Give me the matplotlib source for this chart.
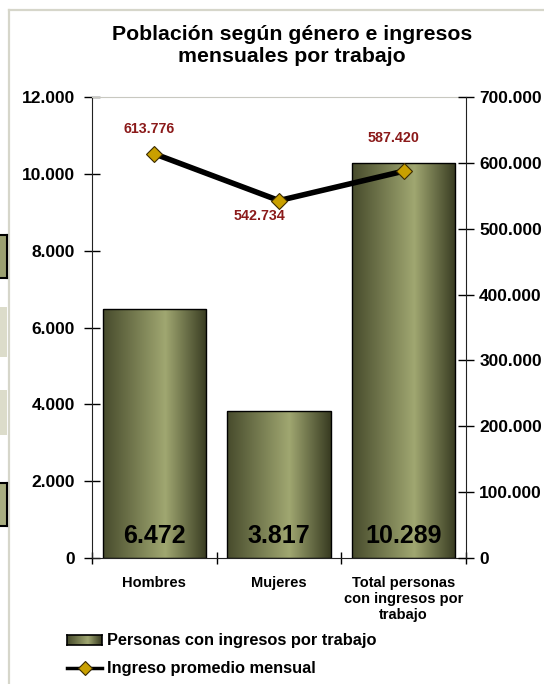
import numpy as np
import matplotlib.pyplot as plt
from matplotlib.colors import LinearSegmentedColormap
from matplotlib.patches import Rectangle
from matplotlib.lines import Line2D
from matplotlib.ticker import FuncFormatter, FixedLocator

plt.rcParams['font.family'] = ['Liberation Sans', 'DejaVu Sans']
plt.rcParams['font.weight'] = 'bold'

categories = ['Hombres', 'Mujeres', 'Total personas\ncon ingresos por\ntrabajo']
personas = [6472, 3817, 10289]
ingreso = [613776, 542734, 587420]
bar_labels = ['6.472', '3.817', '10.289']
ingreso_labels = ['613.776', '542.734', '587.420']

W, H = 544, 684
fig = plt.figure(figsize=(W / 100, H / 100), dpi=100)


def fx(x):
    return x / W


def fy(y):
    return 1 - y / H


# outer chart frame (light border)
fig.add_artist(Line2D([fx(9), fx(9)], [fy(10), 0], color='#d6d6ca', lw=1.6,
                      transform=fig.transFigure))
fig.add_artist(Line2D([fx(9), 1], [fy(10), fy(10)], color='#d6d6ca', lw=1.6,
                      transform=fig.transFigure))

# fragment of a table at the left edge
for y0, y1, col in [(235, 278, '#9ba070'), (307, 357, '#dcdcca'),
                    (390, 435, '#dcdcca'), (483, 526, '#a9ae80')]:
    fig.add_artist(Rectangle((0, fy(y1)), fx(7), (y1 - y0) / H, facecolor=col,
                             edgecolor='none', transform=fig.transFigure))
for y in [235, 278, 483, 526]:
    fig.add_artist(Line2D([0, fx(7)], [fy(y), fy(y)], color='black', lw=1.5,
                          transform=fig.transFigure))
fig.add_artist(Line2D([fx(7), fx(7)], [fy(235), fy(278)], color='black', lw=1.5,
                      transform=fig.transFigure))
fig.add_artist(Line2D([fx(7), fx(7)], [fy(483), fy(526)], color='black', lw=1.5,
                      transform=fig.transFigure))

ax = fig.add_axes([fx(92), fy(558), fx(466) - fx(92), (558 - 97) / H])
ax2 = ax.twinx()

x = np.arange(len(categories))
bars = ax.bar(x, personas, width=0.83, facecolor='none', edgecolor='black',
              linewidth=1.0, zorder=3)

cmap = LinearSegmentedColormap.from_list(
    'olive', [(0, '#474b2c'), (0.6, '#a0a771'), (1.0, '#383b21')])
grad = np.linspace(0, 1, 256).reshape(1, -1)
for b in bars:
    bx, by = b.get_x(), b.get_y()
    im = ax.imshow(grad, cmap=cmap, aspect='auto', zorder=2,
                   extent=[bx, bx + b.get_width(), by, by + b.get_height()])
    im.set_clip_path(b)

for xi, lab in zip(x, bar_labels):
    ax.text(xi, 560, lab, ha='center', va='center', fontsize=18,
            fontweight='bold', color='black', zorder=4)

ax.set_xlim(-0.5, 2.5)
ax.set_ylim(0, 12000)
ax.set_yticks(np.arange(0, 12001, 2000))
fmt = FuncFormatter(lambda v, p: f'{v:,.0f}'.replace(',', '.'))
ax.yaxis.set_major_formatter(fmt)

ax.xaxis.set_major_locator(FixedLocator([-0.5, 0.5, 1.5, 2.5]))
ax.xaxis.set_minor_locator(FixedLocator(x))
ax.set_xticklabels([], minor=False)
ax.set_xticklabels(categories, minor=True, fontsize=10.5, fontweight='bold',
                   linespacing=1.2)
ax.tick_params(axis='x', which='major', direction='inout', length=8, width=1)
ax.tick_params(axis='x', which='minor', length=0, pad=13)
ax.tick_params(axis='y', direction='inout', length=11, width=1, pad=7,
               labelsize=12.5)

ax.spines['top'].set_color('#c8c8c0')
ax.spines['right'].set_visible(False)
for s in ['left', 'bottom']:
    ax.spines[s].set_color('#222222')

ax2.plot(x, ingreso, color='black', lw=4, marker='D', markersize=8,
         markerfacecolor='#c9a000', markeredgecolor='#3a2a00',
         markeredgewidth=0.8, zorder=5)
ax2.set_ylim(0, 700000)
ax2.set_yticks(np.arange(0, 700001, 100000))
ax2.yaxis.set_major_formatter(fmt)
ax2.tick_params(axis='y', direction='inout', length=11, width=1, pad=4,
                labelsize=12.5)
for s in ['top', 'left', 'bottom']:
    ax2.spines[s].set_visible(False)
ax2.spines['right'].set_color('#222222')

offsets = [(-5, 25), (-20, -15), (-10, 33)]
for xi, v, lab, (dx, dy) in zip(x, ingreso, ingreso_labels, offsets):
    ax2.annotate(lab, (xi, v), xytext=(dx, dy), textcoords='offset pixels',
                 ha='center', va='center', fontsize=10.3, fontweight='bold',
                 color='#8b1a1a')

fig.text(fx(292), fy(45), 'Población según género e ingresos\nmensuales por trabajo',
         ha='center', va='center', fontsize=15.3, fontweight='bold',
         linespacing=1.2)

# legend
lax = fig.add_axes([fx(67), fy(645), fx(35), 10 / H])
lax.imshow(np.linspace(0, 1, 64).reshape(1, -1), cmap=cmap, aspect='auto')
lax.set_xticks([])
lax.set_yticks([])
for s in lax.spines.values():
    s.set_linewidth(1.2)
fig.text(fx(107), fy(640), 'Personas con ingresos por trabajo', ha='left',
         va='center', fontsize=11.8, fontweight='bold')
fig.add_artist(Line2D([fx(67), fx(102)], [fy(668), fy(668)], color='black', lw=2.5,
                      transform=fig.transFigure))
fig.add_artist(Line2D([fx(84.5)], [fy(668)], marker='D', markersize=7,
                      markerfacecolor='#c9a000', markeredgecolor='#3a2a00',
                      markeredgewidth=0.8, transform=fig.transFigure))
fig.text(fx(107), fy(668), 'Ingreso promedio mensual', ha='left', va='center',
         fontsize=11.8, fontweight='bold')

fig.savefig('out.png', dpi=100, facecolor='white')
